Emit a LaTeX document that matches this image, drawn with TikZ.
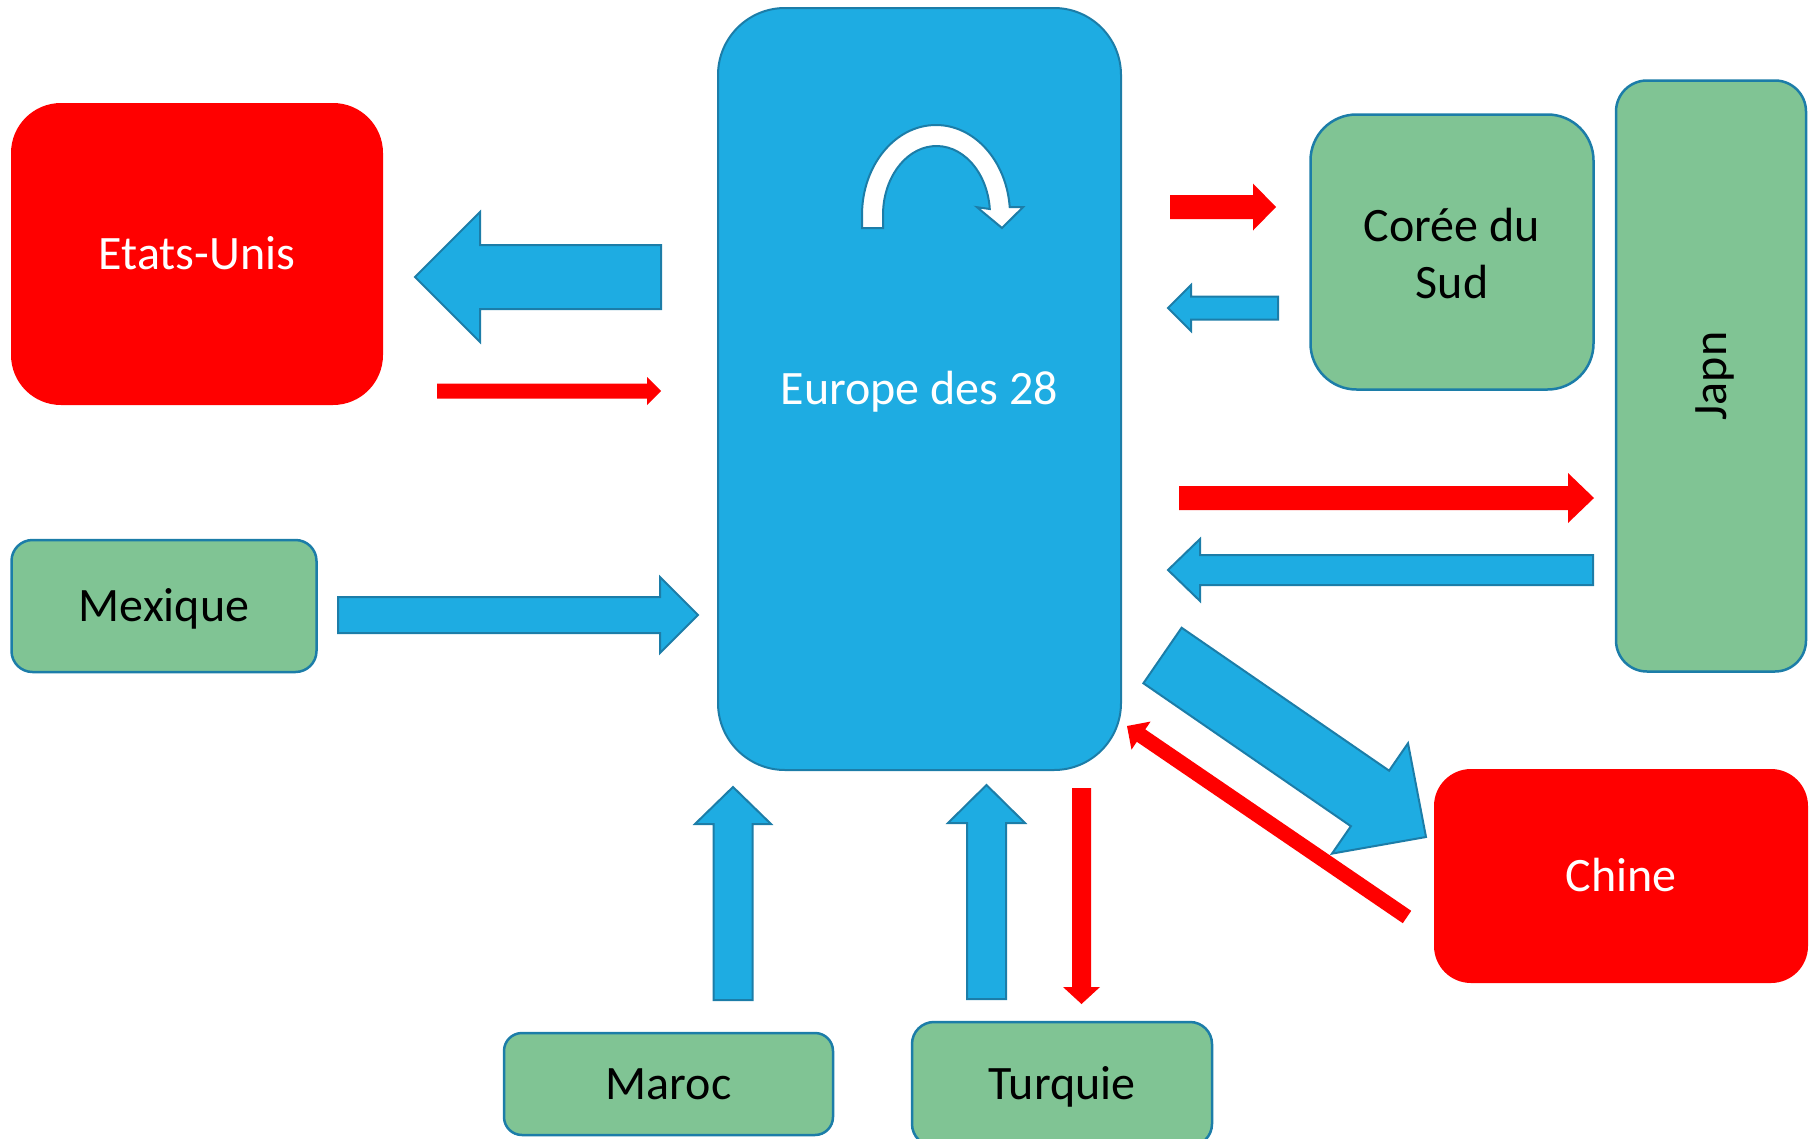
\documentclass[tikz,border=0pt]{standalone}
\usepackage{fontspec}
\setmainfont{Carlito}
\usetikzlibrary{calc}
\definecolor{eublue}{RGB}{30,172,226}
\definecolor{edgeblue}{RGB}{28,125,168}
\definecolor{cgreen}{RGB}{128,196,148}
\definecolor{cred}{RGB}{255,0,0}
\tikzset{
 box/.style={rectangle, inner sep=0pt, align=center, font=\fontsize{48}{57}\selectfont},
 oneline/.style={text height=31pt, text depth=0pt},
 redbox/.style={box, oneline, fill=cred, text=white},
 greenbox/.style={box, fill=cgreen, draw=edgeblue, line width=2.5pt, text=black},
 bluebox/.style={box, oneline, fill=eublue, draw=edgeblue, line width=2pt, text=white},
 bluearrow/.style={fill=eublue, draw=edgeblue, line width=2pt, line join=miter},
 redarrow/.style={fill=cred},
}
% #1 style, #2 tail, #3 tip, #4 shaft half width, #5 head half width, #6 head length
\newcommand\blockarrow[6]{%
  \coordinate (bh) at ($(#3)!#6!(#2)$);
  \path[#1] ($(#2)!#4!90:(#3)$) -- ($(bh)!#4!90:(#3)$) -- ($(bh)!#5!90:(#3)$) -- (#3)
    -- ($(bh)!#5!-90:(#3)$) -- ($(bh)!#4!-90:(#3)$) -- ($(#2)!#4!-90:(#3)$) -- cycle;}
\begin{document}
\begin{tikzpicture}[x=1pt,y=-1pt]
\useasboundingbox (0,0) rectangle (1810,1138);
\clip (0,0) rectangle (1810,1138);
% nodes
\node[bluebox, rounded corners=67pt, minimum width=403pt, minimum height=762pt] (eu) at (919.5,389) {Europe des 28};
\node[redbox, rounded corners=50pt, minimum width=372pt, minimum height=302pt] (us) at (197,254) {Etats-Unis};
\node[greenbox, oneline, rounded corners=21pt, minimum width=305pt, minimum height=132pt] (mx) at (164,606) {Mexique};
\node[greenbox, rounded corners=46pt, minimum width=283pt, minimum height=275pt] (kr) at (1452,252) {};
\node[box, text=black, inner sep=0pt] (krt) at (1452,254) {Corée du\\Sud};
\node[greenbox, rounded corners=31pt, minimum width=190pt, minimum height=591pt] (jp) at (1711,376) {};
\node[rotate=90, oneline, font=\fontsize{48}{57}\selectfont, inner sep=0pt] (jpt) at (jp.center) {Japn};
\node[redbox, rounded corners=37pt, minimum width=374pt, minimum height=214pt] (cn) at (1621,876) {Chine};
\node[greenbox, oneline, rounded corners=18pt, minimum width=329pt, minimum height=102pt] (ma) at (668.5,1084) {Maroc};
\node[greenbox, oneline, rounded corners=22pt, minimum width=300pt, minimum height=124pt] (tr) at (1062,1084) {Turquie};
% curved arrow inside Europe
\draw[fill=white, draw=edgeblue, line width=2pt, line join=miter]
  (862,228) -- (862,215) arc[start angle=180, end angle=355, x radius=74, y radius=90]
  -- (1023,207.2) -- (1002,228) -- (977,207.2) -- (989.8,209)
  arc[start angle=355, end angle=180, x radius=53.5, y radius=69] -- (883,228) -- cycle;
% arrow end points
\coordinate (a1s) at (661,277);   \coordinate (a1e) at (415,277);
\coordinate (a2s) at (437,391);   \coordinate (a2e) at (661,391);
\coordinate (a3s) at (338,615);   \coordinate (a3e) at (698,615);
\coordinate (a4s) at (1170,207);  \coordinate (a4e) at (1276,207);
\coordinate (a5s) at (1278,308);  \coordinate (a5e) at (1168,308);
\coordinate (a6s) at (1179,498);  \coordinate (a6e) at (1594,498);
\coordinate (a7s) at (1593,570);  \coordinate (a7e) at (1168,570);
\coordinate (a8s) at (1162.5,655.5); \coordinate (a8e) at (1426,837);
\coordinate (a9s) at (1407,917);  \coordinate (a9e) at (1127,726);
\coordinate (a10s) at (733,1000); \coordinate (a10e) at (733,787);
\coordinate (a11s) at (986.5,999); \coordinate (a11e) at (986.5,785);
\coordinate (a12s) at (1081.5,788); \coordinate (a12e) at (1081.5,1004);
% arrows
\blockarrow{bluearrow}{a1s}{a1e}{32pt}{65pt}{65pt}
\blockarrow{redarrow}{a2s}{a2e}{7.5pt}{14pt}{14pt}
\blockarrow{bluearrow}{a3s}{a3e}{18pt}{38pt}{38pt}
\blockarrow{redarrow}{a4s}{a4e}{12pt}{23.5pt}{23pt}
\blockarrow{bluearrow}{a5s}{a5e}{11.5pt}{23pt}{23pt}
\blockarrow{redarrow}{a6s}{a6e}{12pt}{25pt}{26pt}
\blockarrow{bluearrow}{a7s}{a7e}{15pt}{31pt}{32pt}
\blockarrow{bluearrow}{a8s}{a8e}{33.7pt}{67pt}{68pt}
\blockarrow{redarrow}{a9s}{a9e}{7.5pt}{17pt}{17pt}
\blockarrow{bluearrow}{a10s}{a10e}{19.5pt}{38pt}{37pt}
\blockarrow{bluearrow}{a11s}{a11e}{19.5pt}{38.5pt}{38pt}
\blockarrow{redarrow}{a12s}{a12e}{9.5pt}{18.5pt}{17pt}
\end{tikzpicture}
\end{document}
